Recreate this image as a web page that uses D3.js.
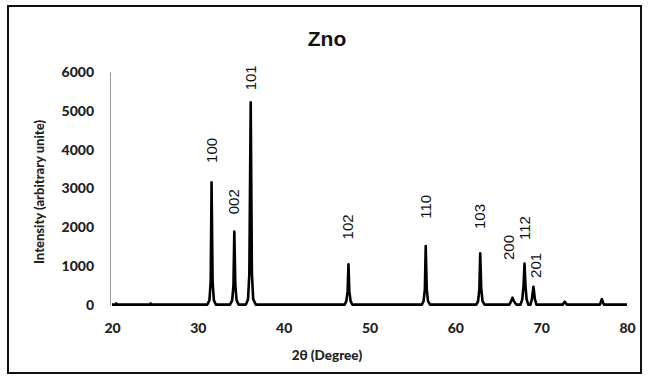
<!DOCTYPE html>
<html><head><meta charset="utf-8">
<script src="https://cdn.jsdelivr.net/npm/d3@7"></script>
<style>
html,body{margin:0;padding:0;background:#fff;}
svg{display:block;}
</style></head>
<body>
<script>
// ---- Data ----
const twoTheta = [20.0,20.4,20.5,20.6,24.4,24.5,24.6,
  31.1,31.35,31.5,31.6,31.72,31.87,32.1,
  33.75,34.0,34.15,34.25,34.37,34.52,34.75,
  35.6,35.85,36.0,36.16,36.3,36.45,36.75,
  47.1,47.3,47.45,47.55,47.65,47.8,48.0,
  56.1,56.3,56.45,56.55,56.67,56.82,57.05,
  62.45,62.65,62.8,62.9,63.02,63.17,63.4,
  66.3,66.5,66.66,66.82,67.1,
  67.6,67.8,67.95,68.06,68.17,68.3,68.5,
  68.75,68.92,69.1,69.27,69.45,
  72.5,72.75,73.0,
  76.85,77.07,77.3,
  80.0];
const intensity = [10,10,40,10,10,40,10,
  10,120,600,3160,600,120,10,
  10,120,500,1890,500,120,10,
  10,150,800,5220,800,150,10,
  10,100,350,1050,350,100,10,
  10,100,400,1520,400,100,10,
  10,100,400,1330,400,100,10,
  10,100,190,100,10,
  10,150,500,1070,500,150,10,
  10,150,470,150,10,
  10,85,10,
  10,150,10,
  10];
const peakLabels = ["100","002","101","102","110","103","200","112","201"];
const peakPos    = [31.6, 34.25, 36.16, 47.55, 56.55, 62.9, 66.3, 68.06, 69.4];
const labelLevel = [3980, 2660, 5850, 2010, 2530, 2280, 1480, 1980, 1020];
const xTicks = [20,30,40,50,60,70,80];
const yTicks = [0,1000,2000,3000,4000,5000,6000];
const title = "Zno";
const xTitle = "2θ (Degree)";
const yTitle = "Intensity (arbitrary unite)";

const W = 649, H = 380;
const svg = d3.select("body").append("svg").attr("width", W).attr("height", H);
svg.append("rect").attr("width", W).attr("height", H).attr("fill", "#fff");

// frame
svg.append("rect").attr("x", 8).attr("y", 6).attr("width", 633).attr("height", 367)
  .attr("fill", "none").attr("stroke", "#111").attr("stroke-width", 2);

const x = d3.scaleLinear().domain([20, 80]).range([112, 627]);
const y = d3.scaleLinear().domain([0, 6000]).range([305, 72]);

// title
svg.append("text").attr("x", 327).attr("y", 46).attr("text-anchor", "middle")
  .attr("font-family", "Liberation Sans, Arial, sans-serif").attr("font-weight", "bold")
  .attr("font-size", 21).attr("fill", "#111").text(title);

// y axis
const yAxis = d3.axisLeft(y).tickValues(yTicks).tickSize(0).tickPadding(16).tickFormat(d3.format("d"));
const gy = svg.append("g").attr("transform", `translate(${x(20) - 2},0)`).call(yAxis);
gy.select(".domain").attr("stroke", "#999").attr("stroke-width", 1);
gy.selectAll("text").attr("font-family", "Lato, sans-serif").attr("font-weight", "900")
  .attr("font-size", 14).attr("fill", "#222");

// x axis (labels only)
const xAxis = d3.axisBottom(x).tickValues(xTicks).tickSize(0).tickPadding(0).tickFormat(d3.format("d"));
const gx = svg.append("g").attr("transform", `translate(0,${y(0) + 20})`).call(xAxis);
gx.select(".domain").remove();
gx.selectAll("text").attr("font-family", "Lato, sans-serif").attr("font-weight", "900")
  .attr("font-size", 14).attr("fill", "#222").attr("dy", "0.6em");

// axis titles
svg.append("text").attr("x", 327).attr("y", 360).attr("text-anchor", "middle")
  .attr("font-family", "Lato, sans-serif").attr("font-weight", "900")
  .attr("font-size", 13.5).attr("fill", "#222").text(xTitle);
svg.append("text").attr("transform", "translate(44,192) rotate(-90)").attr("text-anchor", "middle")
  .attr("font-family", "Lato, sans-serif").attr("font-weight", "900")
  .attr("font-size", 13).attr("fill", "#222").text(yTitle);

// pattern line
const pts = twoTheta.map((t, i) => [t, intensity[i]]);
svg.append("path").datum(pts)
  .attr("d", d3.line().x(d => x(d[0])).y(d => y(d[1])))
  .attr("fill", "none").attr("stroke", "#000").attr("stroke-width", 2.6)
  .attr("stroke-linejoin", "round");

// peak labels
svg.selectAll("text.pl").data(peakLabels).enter().append("text").attr("class", "pl")
  .attr("transform", (d, i) => `translate(${x(peakPos[i]) + 5},${y(labelLevel[i])}) rotate(-90)`)
  .attr("text-anchor", "middle")
  .attr("font-family", "Liberation Sans, Arial, sans-serif").attr("font-size", 15)
  .attr("fill", "#111").text(d => d);
</script>
</body></html>
